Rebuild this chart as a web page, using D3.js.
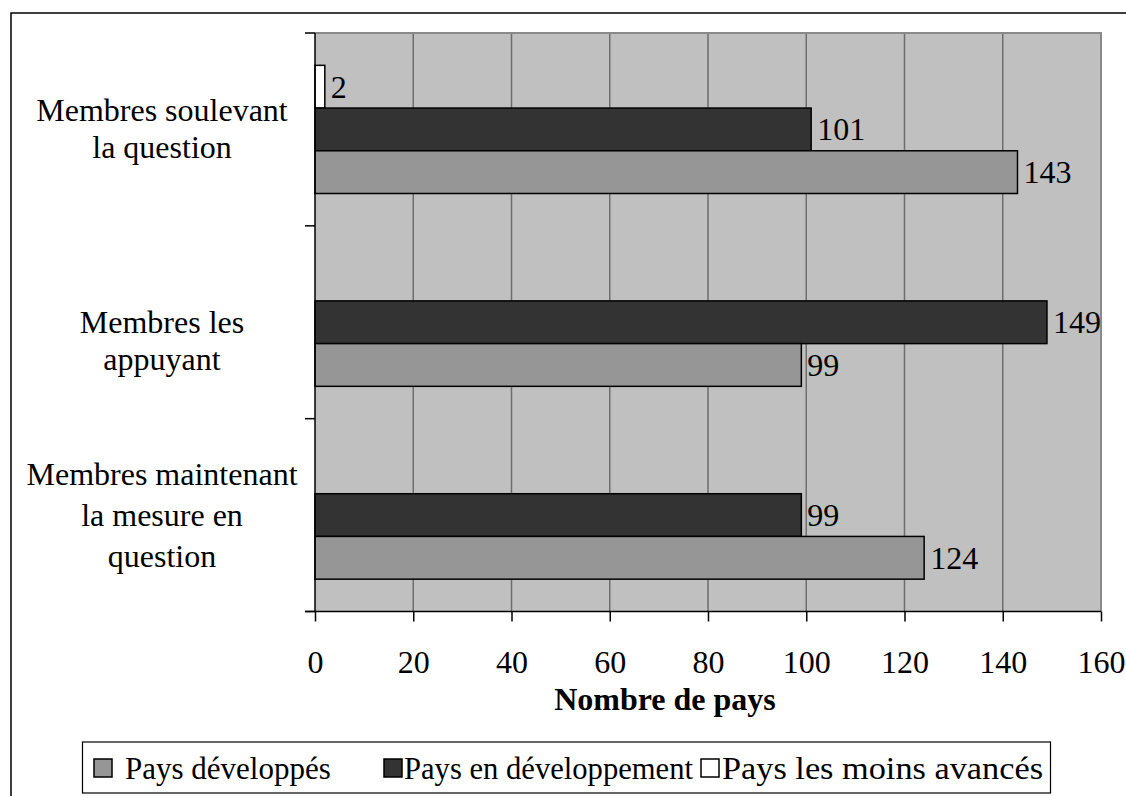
<!DOCTYPE html>
<html><head><meta charset="utf-8">
<script src="https://cdn.jsdelivr.net/npm/d3@7"></script>
<style>
body{margin:0;background:#fff}
text{font-family:"Liberation Serif","Times New Roman",serif;fill:#000}
</style>
</head><body>
<svg id="c" width="1126" height="796"></svg>
<script>
// ---- data ----
const categories = [
  ["Membres soulevant", "la question"],
  ["", "Membres les", "appuyant"],
  ["Membres maintenant", "la mesure en", "question"]
];
const seriesNames = ["Pays développés", "Pays en développement", "Pays les moins avancés"];
const developed = [143, 99, 124];
const developing = [101, 149, 99];
const leastDeveloped = [2, null, null];
const xTicks = [0, 20, 40, 60, 80, 100, 120, 140, 160];
const xTitle = "Nombre de pays";

// ---- layout ----
const svg = d3.select("#c");
const L = 315, R = 1101, T = 33, B = 611.5;
const fs = 32, lfs = 31;
const colors = {"Pays développés": "#969696", "Pays en développement": "#333333", "Pays les moins avancés": "#ffffff"};
const seriesData = {"Pays développés": developed, "Pays en développement": developing, "Pays les moins avancés": leastDeveloped};

// outer frame
svg.append("rect").attr("x", 11).attr("y", 13).attr("width", 1300).attr("height", 1000)
  .attr("fill", "none").attr("stroke", "#000").attr("stroke-width", 1.5);

const catIdx = categories.map((c, i) => i);
const x = d3.scaleLinear().domain([0, 160]).range([L, R]);
const y = d3.scaleBand().domain(catIdx).range([T, B]).padding(0);
const order = ["Pays les moins avancés", "Pays en développement", "Pays développés"];
const yi = d3.scaleBand().domain(order).range([0, y.bandwidth()]).paddingInner(0).paddingOuter(0.757);

// plot background
svg.append("rect").attr("x", L).attr("y", T).attr("width", R - L).attr("height", B - T).attr("fill", "#c0c0c0");

// gridlines
svg.append("g").selectAll("line").data(xTicks.filter(d => d > 0)).join("line")
  .attr("x1", d => x(d)).attr("x2", d => x(d)).attr("y1", T).attr("y2", B)
  .attr("stroke", "#6e6e6e").attr("stroke-width", 1.5);
// plot top & right border
svg.append("path").attr("d", `M${L},${T}H${R}V${B}`).attr("fill", "none")
  .attr("stroke", "#8a8a8a").attr("stroke-width", 2);

// bars
const barData = [];
catIdx.forEach(i => order.forEach(s => {
  const v = seriesData[s][i];
  if (v !== null && v !== undefined) barData.push({i, s, v});
}));
svg.append("g").selectAll("rect").data(barData).join("rect")
  .attr("x", x(0)).attr("y", d => y(d.i) + yi(d.s))
  .attr("width", d => x(d.v) - x(0)).attr("height", yi.bandwidth())
  .attr("fill", d => colors[d.s]).attr("stroke", "#000").attr("stroke-width", 1.5);

// value labels
svg.append("g").selectAll("text").data(barData).join("text")
  .attr("x", d => x(d.v) + 6).attr("y", d => y(d.i) + yi(d.s) + yi.bandwidth() / 2)
  .attr("dy", "0.34em").attr("font-size", fs).text(d => d.v);

// x axis
const xAxis = d3.axisBottom(x).tickValues(xTicks).tickSize(10).tickSizeOuter(0).tickFormat(d3.format("d"));
const gx = svg.append("g").attr("transform", `translate(0,${B})`).call(xAxis);
gx.select(".domain").attr("stroke", "#000").attr("stroke-width", 1.5).attr("d", `M${L - 10},0H${R}`);
gx.selectAll(".tick line").attr("stroke", "#000").attr("stroke-width", 1.5);
gx.selectAll(".tick text").attr("y", 61).attr("dy", 0).attr("font-size", fs)
  .attr("font-family", '"Liberation Serif","Times New Roman",serif').attr("fill", "#000");

// y axis
svg.append("line").attr("x1", L).attr("x2", L).attr("y1", T).attr("y2", B).attr("stroke", "#000").attr("stroke-width", 1.5);
const bounds = catIdx.map(i => y(i)).concat([B]);
svg.append("g").selectAll("line").data(bounds).join("line")
  .attr("x1", L - 10).attr("x2", L).attr("y1", d => d).attr("y2", d => d)
  .attr("stroke", "#000").attr("stroke-width", 1.5);

// category labels
const lineH = [37, 37, 41];
const cl = svg.append("g");
categories.forEach((lines, i) => {
  const lh = lineH[i];
  const cy = y(i) + y.bandwidth() / 2;
  const first = cy - (lines.length - 1) * lh / 2 + fs * 0.33;
  const t = cl.append("text").attr("text-anchor", "middle").attr("font-size", fs);
  lines.forEach((ln, k) => { if (ln) t.append("tspan").attr("x", 162).attr("y", first + k * lh).text(ln); });
});

// x title
svg.append("text").attr("x", 665).attr("y", 710).attr("text-anchor", "middle")
  .attr("font-size", fs).attr("font-weight", "bold").text(xTitle);

// legend
const lg = svg.append("g");
lg.append("rect").attr("x", 82.5).attr("y", 742).attr("width", 968).attr("height", 51)
  .attr("fill", "#fff").attr("stroke", "#000").attr("stroke-width", 1.2);
const legSq = [94, 384, 701];
const legTx = [125, 404, 722];
seriesNames.forEach((s, k) => {
  lg.append("rect").attr("x", legSq[k]).attr("y", 759).attr("width", 18).attr("height", 18)
    .attr("fill", colors[s]).attr("stroke", "#000").attr("stroke-width", 1.5);
  const t = lg.append("text").attr("x", legTx[k]).attr("y", 779).attr("font-size", lfs).text(s);
  if (k === 1) t.attr("textLength", 289).attr("lengthAdjust", "spacingAndGlyphs");
  if (k === 2) t.attr("textLength", 321).attr("lengthAdjust", "spacingAndGlyphs");
});
</script>
</body></html>
